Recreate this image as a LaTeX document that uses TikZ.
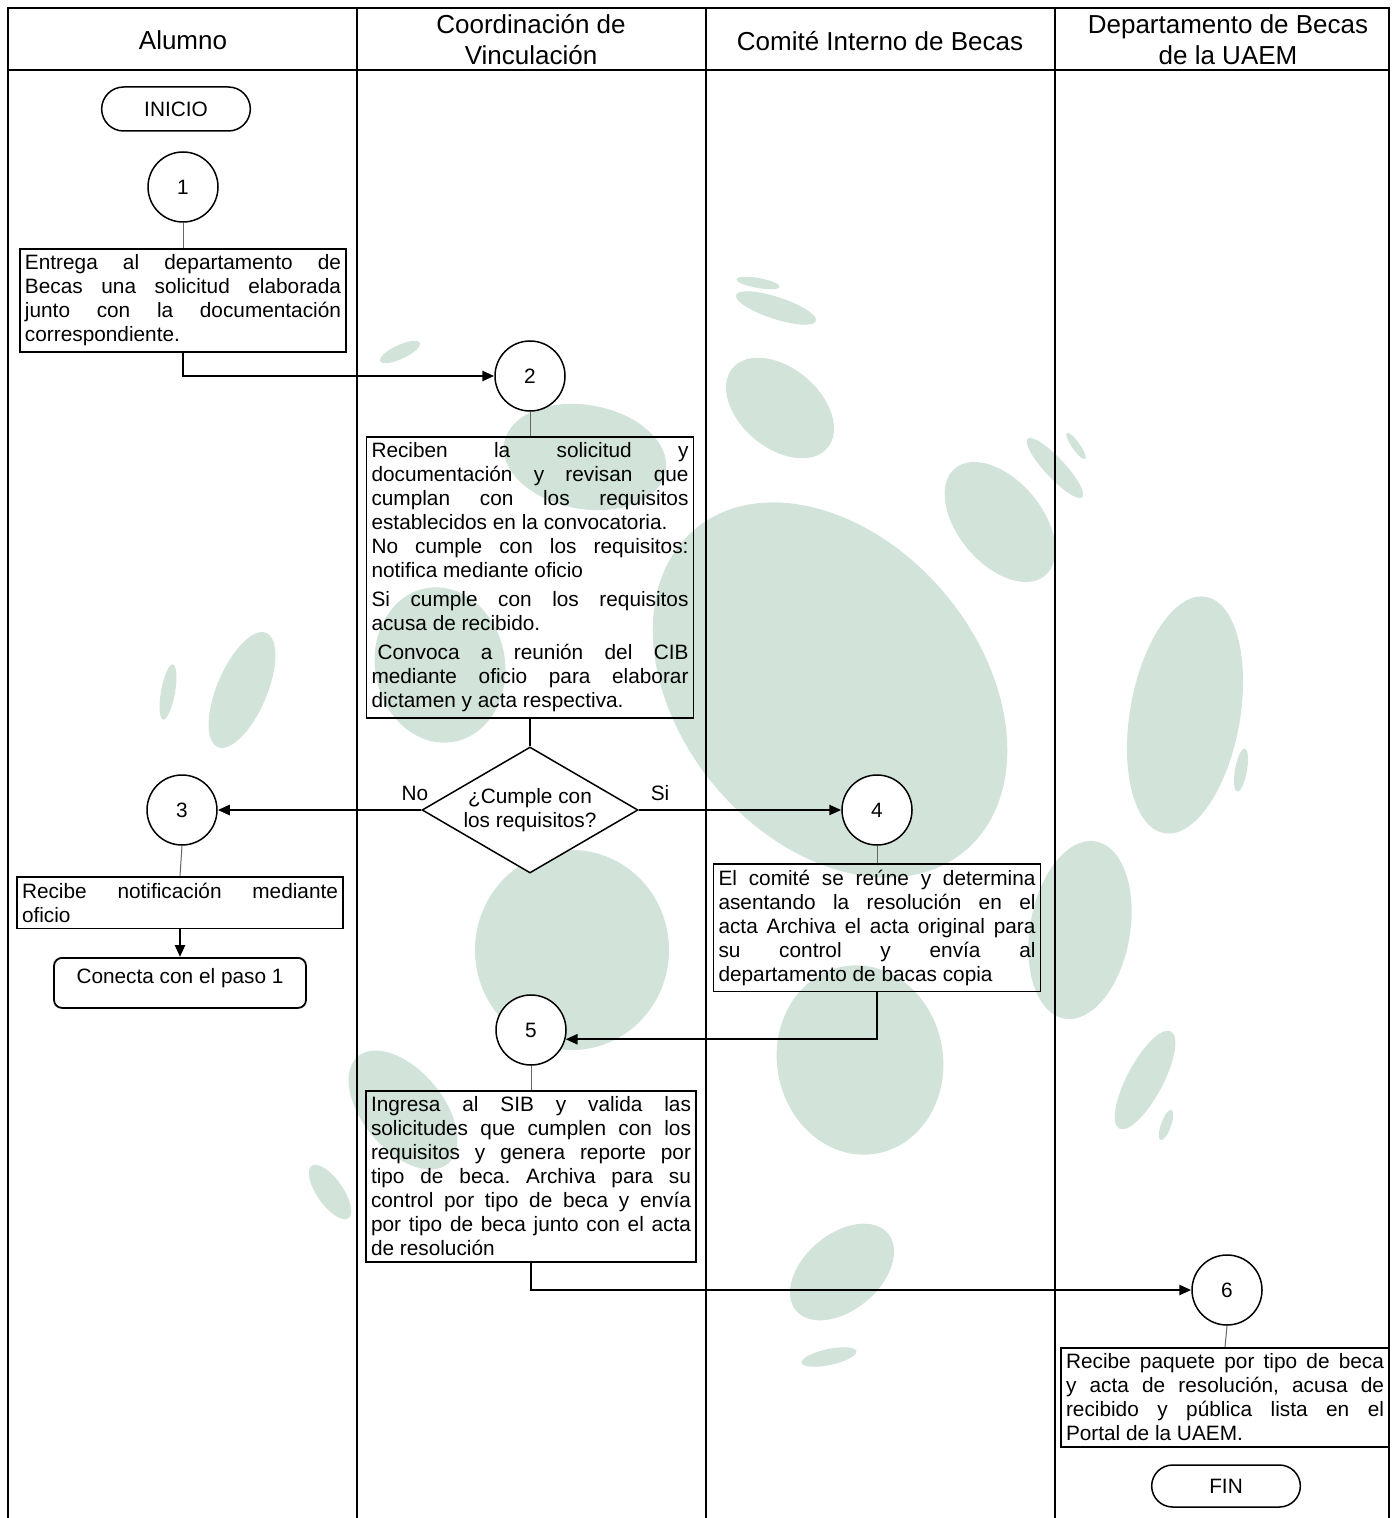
\documentclass[tikz,border=0pt]{standalone}
\usepackage{fontspec}
\setmainfont{Liberation Sans}
\usetikzlibrary{shapes.geometric,shapes.misc,arrows.meta}
\definecolor{blobgreen}{RGB}{210,228,218}
% justified line: the words of #1 spread over the full line width
\def\jlwords#1 #2\jlstop{#1\ifx\relax#2\relax\else\hfill\jlwords#2\jlstop\fi}
\newcommand\jl[1]{\leavevmode\hbox to\linewidth{\jlwords#1 \jlstop}}
% body of a process box: fixed width, 10.4pt text
\newcommand\procbody[2]{\parbox{#1}{\fontsize{10.4}{12}\selectfont #2}}
% background watermark ellipse: centre, two radii, tilt (clockwise)
\newcommand\greenblob[5]{\fill[blobgreen,rotate around={-#5:(#1,#2)}] (#1,#2) ellipse [x radius=#3, y radius=#4];}

\begin{document}
\begin{tikzpicture}[x=0.5pt,y=-0.5pt,
  lane/.style={line width=1pt},
  lanehead/.style={font=\fontsize{13}{15.5}\selectfont, align=center, inner sep=0pt},
  proc/.style={draw, line width=0.9pt, inner xsep=2.5pt, inner ysep=3pt, anchor=north},
  stepnum/.style={circle, draw, fill=white, line width=0.75pt, minimum size=35pt, inner sep=0pt,
    font=\fontsize{10.4}{12}\selectfont},
  termbox/.style={rounded rectangle, draw, fill=white, line width=0.75pt, minimum width=81pt,
    minimum height=22pt, font=\fontsize{10.4}{12}\selectfont},
  decision/.style={diamond, draw, fill=white, line width=0.75pt, aspect=1.714, inner sep=0pt,
    minimum width=108pt, minimum height=63pt, align=center, font=\fontsize{10.4}{12}\selectfont},
  tag/.style={font=\fontsize{10.4}{12}\selectfont, inner sep=0pt},
  flow/.style={line width=1.2pt, -{Triangle[length=6pt,width=5pt]}},
  link/.style={line width=0.5pt, draw=black!60},
  plain/.style={line width=0.75pt}]

\useasboundingbox (0,0) rectangle (1392,1518);

% watermark ellipses
\greenblob{758}{283}{22}{5}{10}
\greenblob{776}{308}{42}{11}{18}
\greenblob{780}{408}{62}{40}{40}
\greenblob{400}{352}{22}{7}{-25}
\greenblob{585}{457}{82}{52}{10}
\greenblob{440}{665}{78}{65}{80}
\greenblob{830}{690}{210}{150}{50}
\greenblob{1000}{522}{70}{42}{50}
\greenblob{1055}{468}{40}{10}{47}
\greenblob{1076}{446}{16}{4}{55}
\greenblob{1185}{715}{120}{55}{-80}
\greenblob{1241}{770}{22}{6}{-80}
\greenblob{1080}{930}{90}{50}{-80}
\greenblob{1145}{1080}{55}{18}{-62}
\greenblob{1166}{1125}{16}{5}{-70}
\greenblob{860}{1060}{95}{83}{80}
\greenblob{842}{1272}{60}{38}{-40}
\greenblob{829}{1357}{28}{8}{-12}
\greenblob{572}{950}{100}{97}{90}
\greenblob{403}{1110}{70}{40}{50}
\greenblob{330}{1192}{32}{13}{55}
\greenblob{242}{690}{62}{25}{-67}
\greenblob{168}{692}{28}{7}{-80}

% swimlane frame
\draw[lane] (8,1518) -- (8,8) -- (1389,8) -- (1389,1518);
\draw[lane] (8,70) -- (1389,70);
\draw[lane] (357,8) -- (357,1518);
\draw[lane] (706,8) -- (706,1518);
\draw[lane] (1055,8) -- (1055,1518);

\node[lanehead] (h1) at (183,40) {Alumno};
\node[lanehead] (h2) at (531,40) {Coordinación de\\Vinculación};
\node[lanehead] (h3) at (880,41) {Comité Interno de Becas};
\node[lanehead] (h4) at (1228,40) {Departamento de Becas\\de la UAEM};

% Alumno
\node[termbox] (inicio) at (176,109) {INICIO};
\node[stepnum] (c1) at (183,187) {1};
\node[proc] (b1) at (183,248) {\procbody{158pt}{%
  \jl{Entrega al departamento de}\\
  \jl{Becas una solicitud elaborada}\\
  \jl{junto con la documentación}\\
  correspondiente.}};

% Coordinación de Vinculación
\node[stepnum] (c2) at (530,376) {2};
\node[proc] (b2) at (530,436) {\procbody{158.5pt}{%
  \jl{Reciben la solicitud y}\\
  \jl{documentación y revisan que}\\
  \jl{cumplan con los requisitos}\\
  establecidos en la convocatoria.\\
  \jl{No cumple con los requisitos:}\\
  notifica mediante oficio\\[2.5pt]
  \jl{Si cumple con los requisitos}\\
  acusa de recibido.\\[2.5pt]
  \jl{\hspace{3pt}Convoca a reunión del CIB}\\
  \jl{mediante oficio para elaborar}\\
  dictamen y acta respectiva.}};
\node[decision] (d) at (530,810) {¿Cumple con\\los requisitos?};
\node[tag] (lno) at (415,793) {No};
\node[tag] (lsi) at (660,793) {Si};

% Alumno, rejected branch
\node[stepnum] (c3) at (182,810) {3};
\node[proc] (b3) at (180,876) {\procbody{158pt}{%
  \jl{Recibe notificación mediante}\\
  oficio}};
\node[draw, rounded corners=4pt, line width=0.9pt, minimum width=126pt, inner ysep=2pt,
  text height=11pt, text depth=10pt, anchor=north, font=\fontsize{10.4}{12}\selectfont] (cn) at (180,957)
  {Conecta con el paso 1};

% Comité Interno de Becas
\node[stepnum] (c4) at (877,810) {4};
\node[proc] (b4) at (877,863) {\procbody{158.5pt}{%
  \jl{El comité se reúne y determina}\\
  \jl{asentando la resolución en el}\\
  \jl{acta Archiva el acta original para}\\
  \jl{su control y envía al}\\
  departamento de bacas copia}};

% Coordinación, second step
\node[stepnum] (c5) at (531,1030) {5};
\node[proc] (b5) at (531,1090) {\procbody{160pt}{%
  \jl{Ingresa al SIB y valida las}\\
  \jl{solicitudes que cumplen con los}\\
  \jl{requisitos y genera reporte por}\\
  \jl{tipo de beca. Archiva para su}\\
  \jl{control por tipo de beca y envía}\\
  \jl{por tipo de beca junto con el acta}\\
  de resolución}};

% Departamento de Becas
\node[stepnum] (c6) at (1227,1290) {6};
\node[proc] (b6) at (1225,1347) {\procbody{159pt}{%
  \jl{Recibe paquete por tipo de beca}\\
  \jl{y acta de resolución, acusa de}\\
  \jl{recibido y pública lista en el}\\
  Portal de la UAEM.}};
\node[termbox, minimum height=21pt] (fin) at (1226,1486) {FIN};

% connectors
\draw[link] (c1.south) -- (b1.north);
\draw[link] (c2.south) -- (b2.north);
\draw[link] (c3.south) -- (b3.north);
\draw[link] (c4.south) -- (b4.north);
\draw[link] (c5.south) -- (b5.north);
\draw[link] (c6.south) -- (b6.north);
\draw[plain] (b2.south) -- (d.north);
\draw[flow] (b1.south) |- (c2.west);
\draw[flow] (d.west) -- (c3.east);
\draw[flow] (d.east) -- (c4.west);
\draw[flow] (b3.south) -- (cn.north);
\draw[flow] (b4.south) |- (c5.-15);
\draw[flow] (b5.south) |- (c6.west);
\end{tikzpicture}
\end{document}
